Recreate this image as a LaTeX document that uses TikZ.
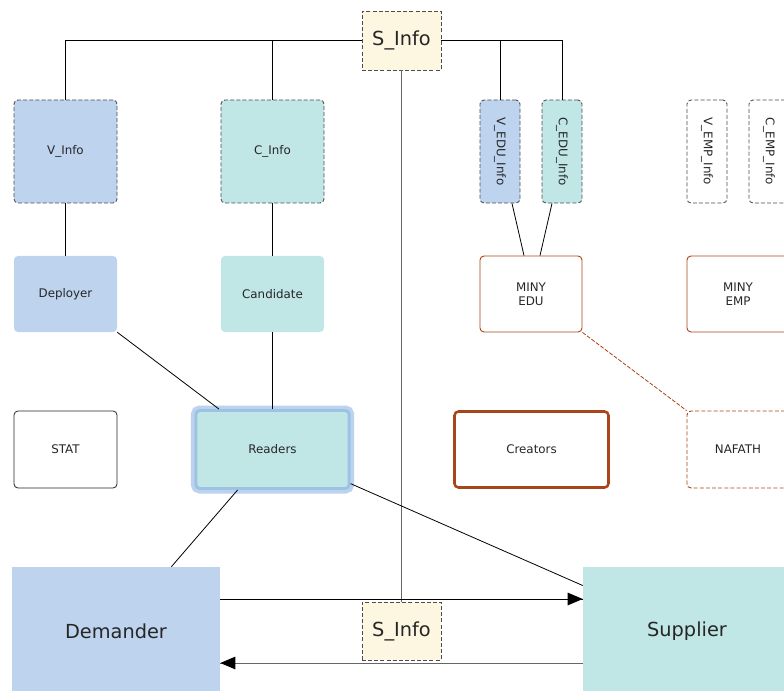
\documentclass[tikz,border=0pt]{standalone}
\usepackage{fontspec}
\setmainfont{DejaVu Sans}
\usetikzlibrary{arrows}
\usetikzlibrary{decorations.markings}
\usetikzlibrary{positioning}
\definecolor{demblue}{HTML}{BED3EE}
\definecolor{supteal}{HTML}{C0E6E6}
\definecolor{infoyellow}{HTML}{FDF6E0}
\definecolor{minybrown}{HTML}{A8461A}
\definecolor{glowblue}{HTML}{BCD2EF}
\definecolor{rimblue}{HTML}{9CC3E4}
\tikzset{flow/.style = {decoration={markings,
                                    mark=at position 1 with {\arrow[scale=1.6, black]{triangle 45}}},
                        postaction={decorate}}}
\tikzset{box/.style = {rectangle, rounded corners=3pt, inner sep=0, align=center,
                       text=black!85, font=\fontsize{8.9}{10.5}\selectfont}}
\tikzset{infobox/.style = {box, draw=black!70, dash pattern=on 3pt off 1.6pt, line width=0.65pt}}
\tikzset{bigbox/.style = {rectangle, sharp corners, inner sep=0, text=black!85, font=\fontsize{14.5}{17}\selectfont}}
\tikzset{link/.style = {line width=0.6pt}}

\begin{document}
\begin{tikzpicture}[x=0.75pt, y=-0.75pt]
      \useasboundingbox (0,0) rectangle (784,691);

      % information sources
      \node [infobox, bigbox, fill=infoyellow, minimum width=59.25pt, minimum height=44.25pt] (stop) at (401.5,40.5) {S\_Info};
      \node [infobox, fill=demblue, minimum width=77.25pt, minimum height=77.25pt] (vinfo) at (65.5,151.5) {V\_Info};
      \node [infobox, fill=supteal, minimum width=77.25pt, minimum height=77.25pt] (cinfo) at (272.5,151.5) {C\_Info};
      \node [infobox, fill=demblue, minimum width=30pt, minimum height=77.25pt] (vedu) at (500,151.5) {\rotatebox{-90}{V\_EDU\_Info}};
      \node [infobox, fill=supteal, minimum width=30pt, minimum height=77.25pt] (cedu) at (562,151.5) {\rotatebox{-90}{C\_EDU\_Info}};
      \node [infobox, minimum width=30pt, minimum height=77.25pt] (vemp) at (707,151.5) {\rotatebox{-90}{V\_EMP\_Info}};
      \node [infobox, minimum width=30pt, minimum height=77.25pt] (cemp) at (769,151.5) {\rotatebox{-90}{C\_EMP\_Info}};

      % actors
      \node [box, fill=demblue, minimum width=77.25pt, minimum height=57pt] (deployer) at (65.5,294) {Deployer};
      \node [box, fill=supteal, minimum width=77.25pt, minimum height=57pt] (candidate) at (272.5,294) {Candidate};
      \node [box, draw=minybrown, line width=0.7pt, minimum width=76.5pt, minimum height=57pt] (minyedu) at (531,294) {MINY\\EDU};
      \node [box, draw=minybrown, line width=0.7pt, minimum width=76.5pt, minimum height=57pt] (minyemp) at (738,294) {MINY\\EMP};

      \node [box, draw=black!85, line width=0.6pt, minimum width=77.25pt, minimum height=57.75pt] (stat) at (65.5,449.5) {STAT};
      \node [box, fill=supteal, draw=rimblue, line width=2.2pt,
             preaction={draw=glowblue, line width=7.5pt},
             minimum width=115pt, minimum height=58.5pt] (readers) at (272.5,449.5) {Readers};
      \node [box, draw=minybrown, line width=1.9pt, minimum width=115.5pt, minimum height=57pt] (creators) at (531.5,449.5) {Creators};
      \node [box, draw=minybrown, line width=0.7pt, dash pattern=on 3pt off 1.6pt,
             minimum width=76.5pt, minimum height=57.75pt] (nafath) at (738,449.5) {NAFATH};

      \node [bigbox, fill=demblue, minimum width=156pt, minimum height=96pt] (demander) at (116,631) {Demander};
      \node [bigbox, fill=supteal, minimum width=156pt, minimum height=96pt] (supplier) at (687,631) {Supplier};
      \node [infobox, bigbox, fill=infoyellow, minimum width=59.25pt, minimum height=43.5pt] (sbot) at (401.5,631) {S\_Info};

      % links
      \draw [link] (stop.west) -| (vinfo.north);
      \draw [link] (stop.west) -| (cinfo.north);
      \draw [link] (stop.east) -| (vedu.north);
      \draw [link] (stop.east) -| (cedu.north);
      \draw [link, black!60] (stop.south) -- (sbot.north);

      \draw [link] (vinfo) -- (deployer);
      \draw [link] (cinfo) -- (candidate);
      \draw [link] ([xshift=9pt]vedu.south) -- ([xshift=-5.25pt]minyedu.north);
      \draw [link] ([xshift=-7.5pt]cedu.south) -- ([xshift=6.75pt]minyedu.north);
      \draw [link, minybrown, dash pattern=on 3pt off 1.2pt] (minyedu.south east) -- (nafath.north west);

      \draw [link] (deployer.south east) -- (readers);
      \draw [link] (candidate) -- (readers);
      \draw [link] (readers) -- (demander);
      \draw [link] (readers) -- (supplier);

      \draw [link, flow] ([yshift=24pt]demander.east) -- ([yshift=24pt]supplier.west);
      \draw [link, flow, black!60] ([yshift=-24pt]supplier.west) -- ([yshift=-24pt]demander.east);
    \end{tikzpicture}
\end{document}
